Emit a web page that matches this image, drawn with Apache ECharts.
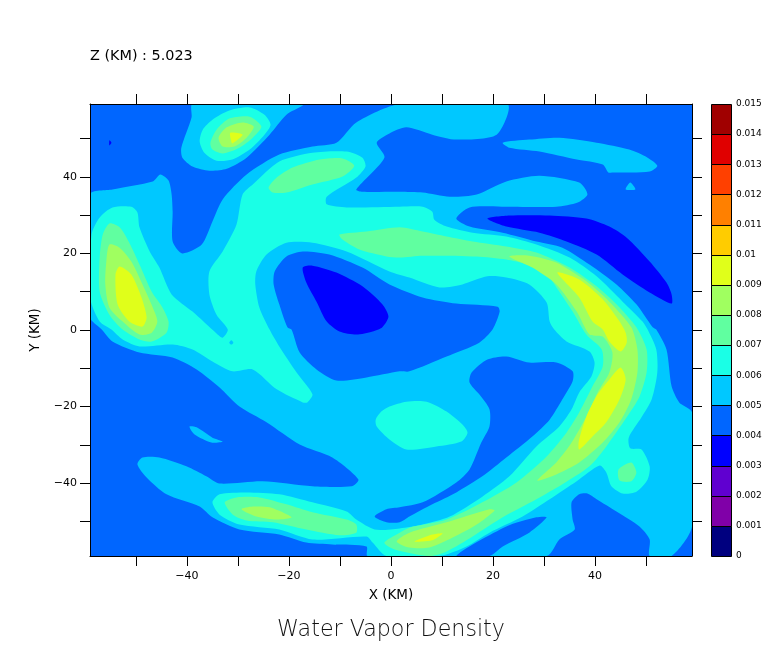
<!DOCTYPE html>
<html><head><meta charset="utf-8">
<style>html,body{margin:0;padding:0;background:#fff}#c{width:768px;height:662px}</style>
<script src="https://cdn.jsdelivr.net/npm/echarts@6/dist/echarts.min.js"></script>
</head><body><div id="c"></div>
<script>
// Contour outlines: [X km, Y km]
const base4 = [[-59,59],[59,59],[59,-59],[-59,-59]];
const band5Main = [[-59,35.4],[-54.6,36.7],[-46.7,38.8],[-45.2,40.6],[-43.6,39],[-43,35.4],[-42.8,30.9],[-42.8,23.1],[-40.9,20],[-37.1,22.3],[-35,28.3],[-33,34.1],[-28.3,40.6],[-21.9,45.8],[-15.4,47.9],[-10.7,48.9],[-6.8,54.2],[1.7,59],[22.8,59],[20.7,51],[12.8,49.7],[8.1,51],[3,52.9],[-0.3,51.3],[-2.8,48.9],[-1.3,45],[-6.8,36.7],[-5.6,36.1],[1.7,36.1],[6.2,35.9],[11.5,34.8],[16.8,35.4],[22.6,38.8],[29.1,40.3],[36.9,38.5],[38.5,35.4],[36.6,33.3],[32.4,32.2],[21.9,32.2],[15.4,32],[12.8,29.1],[15.4,27],[21.9,25.4],[28.5,23.1],[33.6,21.5],[38.9,17.1],[44.2,11.9],[48.1,6.7],[51.3,0.7],[52,0.1],[54,-5.1],[55,-14.7],[56.5,-18.9],[59,-21.5],[59,-51.3],[55,-59],[50.7,-59],[50.7,-54.7],[48.7,-51.3],[44.2,-47.4],[40.3,-44.2],[38.5,-42.7],[36.9,-42.9],[35.4,-45],[35.6,-49.5],[36,-52.1],[33,-54.7],[30.5,-59],[-4.6,-59],[-4.8,-56.5],[-11.5,-56],[-16.6,-55.5],[-21.9,-53.4],[-29.7,-52.1],[-35,-48.9],[-37.5,-46.1],[-44,-42.9],[-47.9,-38.5],[-49.7,-35.1],[-48.7,-33.3],[-45.4,-33.3],[-40.1,-35.6],[-36.2,-38.2],[-33.6,-40.1],[-25.2,-39.5],[-15.4,-40.8],[-7.7,-40.8],[-6.4,-39],[-11.5,-33.3],[-17.9,-29.9],[-24.4,-24.1],[-29.7,-20],[-33.6,-15],[-38.1,-10.3],[-42.8,-7.2],[-49.3,-5.9],[-54.6,-3],[-56.7,0.1],[-59,3.3]];
const band5TopLobe = [[-38.9,59],[-39.1,55.5],[-41.1,47.6],[-40.9,45],[-38.9,42.7],[-35.6,41.6],[-32.2,42.1],[-28.3,45],[-23.8,51],[-20.5,56.2],[-17.3,58.6],[-17.3,59]];
const band5LowerIsle = [[-39.5,-25.2],[-38.1,-25.4],[-35,-28.1],[-33,-29.1],[-35.2,-29.4],[-38.5,-27.3]];
const band5UpperIsle = [[21.9,48.9],[27.1,49.7],[33,50.2],[40.3,48.9],[46.7,47.1],[50.3,45],[52.2,42.9],[50.7,41.4],[43.4,41.1],[42.6,41.1],[41.5,43.2],[36.4,44.5],[29.1,46.6],[23.2,47.6]];
const band5Speck = [[46.9,38.5],[47.9,36.7],[46,36.7]];
const hole4Centre = [[-0.3,11.9],[-5.6,16.3],[-12.1,19.7],[-17.3,20.5],[-20.5,19.2],[-22.8,15.3],[-23,11.9],[-21.9,6.7],[-20.3,0.7],[-19.5,0.1],[-17.9,-5.9],[-14.6,-10.3],[-10.7,-13.2],[-4.8,-12.4],[1.7,-10.8],[3.6,-10.8],[10.9,-6.9],[17.3,-3.3],[19.9,0.1],[21.3,4.8],[20.9,6.1],[12.8,6.9],[6.2,8.5]];
const hole4Lower = [[18.9,-7.7],[22.6,-6.9],[27.1,-8.5],[32.4,-8.5],[35.6,-10.8],[35.6,-13.4],[33.6,-18.1],[31.1,-23.4],[27.7,-27.8],[22.6,-33.3],[17.9,-38.2],[12.8,-42.4],[8.1,-45.5],[3.6,-48.7],[1.7,-50.2],[-0.9,-50.2],[-3.2,-48.7],[-0.9,-46.8],[1.7,-46.3],[6.2,-45],[12.8,-39.8],[15.4,-36.4],[17.7,-29.4],[19.3,-25.2],[19.3,-20.7],[17.3,-16.8],[15.4,-13.7],[15.8,-11.1]];
const hole4Sliver = [[12.8,-59],[22.6,-51.3],[28.5,-48.9],[30.5,-48.9],[27.1,-52.9],[21.9,-56.5],[19.3,-59]];
const band6Main = [[-58.7,24.9],[-57.1,29.4],[-54.6,32],[-50.9,32.2],[-49.7,30.7],[-49.3,26.8],[-47.3,20.5],[-45.4,16.3],[-43,9.3],[-38.9,4.8],[-34.2,-0.9],[-33,-2],[-32,0.1],[-34.2,4],[-35.6,9.3],[-35.6,15.3],[-33,20.5],[-30.3,27.5],[-29.1,35.4],[-27.1,38],[-21.9,44],[-15.4,46.3],[-8.7,46.6],[-5.6,45],[-5,42.7],[-6.8,39.8],[-12.6,34.8],[-12.6,32.8],[-8.7,32],[1.7,32.2],[6.2,32.2],[8.1,30.9],[8.5,28.8],[10.9,27],[16,25.4],[22.6,24.4],[28.5,22.3],[35,18.9],[40.3,14],[45.4,7.4],[49.3,2.2],[50.3,0.1],[52,-5.1],[52.2,-11.1],[51.1,-18.1],[49.1,-22.8],[46.6,-28.1],[46.9,-30.9],[49.1,-31.2],[50.7,-35.6],[50.3,-39],[48.1,-42.2],[45.4,-42.7],[43.2,-40.8],[42.2,-37.2],[40.9,-35.4],[36.4,-39.5],[31.1,-44.2],[25.8,-48.7],[19.3,-52.9],[14.8,-56.5],[9.5,-59],[-0.9,-59],[-3.6,-55.5],[-4.8,-53.9],[-15.4,-54.7],[-21.9,-52.1],[-29.7,-50.8],[-33.6,-48.2],[-35,-45],[-33.6,-42.9],[-28.3,-42.4],[-21.9,-42.9],[-15.4,-45],[-8.7,-47.4],[-6.8,-49.5],[-3.2,-52.1],[1.7,-51.8],[6.2,-50.8],[11.5,-48.7],[17.9,-43.5],[23.2,-38.2],[28.5,-30.4],[33,-25.2],[35.4,-20.7],[36.9,-16.3],[39.3,-12.1],[39.9,-8.5],[38.9,-5.6],[34.4,-3],[32,0.1],[31.1,2.2],[30.5,7.2],[27.1,11.9],[22.6,13.7],[18.9,14],[14,11.9],[9.5,11.1],[3.6,13.7],[-0.3,15.3],[-8.7,20.5],[-15.4,22.8],[-20.5,22.8],[-24.4,19.7],[-26.4,15.3],[-26.6,11.9],[-25.8,5.9],[-23.8,0.1],[-21.9,-4.3],[-18.5,-11.1],[-15.4,-16.8],[-16.4,-18.9],[-17.3,-18.9],[-22.4,-15.5],[-27.1,-10.3],[-31.1,-10.8],[-35,-8.2],[-38.9,-5.1],[-42.8,-3.8],[-49.3,-4.3],[-52.6,-2.5],[-54.8,0.1],[-57.1,2.2],[-58.9,8]];
const band6Top = [[-37.5,49.2],[-36.9,52.3],[-35,54.9],[-31.7,57.3],[-27.7,58.1],[-24.8,56.2],[-23.6,53.6],[-24.8,51],[-27.7,47.1],[-31.1,44.5],[-34.2,44.2],[-36.6,46.3]];
const band6Lower = [[-3,-23.4],[-1.9,-21.3],[-0.3,-20],[3,-18.7],[7,-18.7],[10.9,-21.3],[14,-24.7],[15,-26.8],[13.8,-29.1],[8.9,-30.4],[3,-31.2],[-0.3,-28.6],[-2.8,-25.2]];
const hole5Speck = [[-31.7,-3.3],[-31.3,-2.7],[-30.9,-3.3],[-31.3,-3.8]];
const band7Left = [[-57.1,18.9],[-56.5,24.9],[-55.2,27.8],[-53.2,26.8],[-51.3,22.8],[-49.3,17.1],[-46.9,10],[-44.8,5.9],[-43.6,2.2],[-44,-0.7],[-46.9,-3],[-49.3,-2.5],[-52.6,0.1],[-55.2,4],[-57.1,10]];
const band7Top = [[-35.4,48.9],[-34.2,52.3],[-31.7,55.2],[-27.7,55.7],[-25.4,53.1],[-27.1,50.2],[-29.7,47.6],[-33,46.1],[-35,47.1]];
const band7Upper = [[-24,37.2],[-22.4,39.8],[-19.3,42.4],[-14,44.5],[-9.5,44.8],[-7.2,42.9],[-9.5,40.1],[-15.4,38],[-20.5,35.9],[-23.2,35.9]];
const band7Arc = [[-10.1,24.9],[-4.8,25.7],[1.7,26.8],[6.2,25.7],[10.9,24.4],[16,23.1],[22.6,21.8],[28.5,20.2],[35,16.3],[40.3,11.4],[44.2,6.7],[48.1,0.7],[50.1,-5.1],[50.1,-11.1],[48.7,-17.4],[46.2,-22.8],[42.2,-30.4],[38.9,-35.6],[33.6,-40.3],[28.5,-44.2],[21.9,-48.9],[16,-53.9],[10.9,-57.8],[7.5,-59],[0.7,-57.3],[-1.3,-55.5],[1.7,-52.9],[3.6,-51.6],[10.9,-49.5],[17.9,-45],[24.6,-39.8],[30.5,-33],[34.4,-26.8],[36.9,-21.5],[39.5,-14.7],[41.5,-9.5],[41.3,-5.1],[38.3,-1.2],[35.6,4.8],[33,10],[30.5,14.5],[26.6,17.1],[22.6,18.4],[16.8,19.2],[6.2,19.4],[1.7,18.9],[-0.9,19.2],[-6.2,21],[-9.5,23.6]];
const band7Strip = [[-32.6,-45],[-30.3,-43.7],[-25.8,-43.7],[-20.5,-45.5],[-15.4,-47.6],[-8.7,-49.5],[-6.8,-50.8],[-6.8,-52.9],[-10.1,-53.6],[-16.6,-52.1],[-23.2,-50.2],[-28.3,-49.7],[-31,-48.2]];
const band7Knob = [[44.6,-36.4],[47.1,-34.6],[48.1,-37.2],[47.1,-39.5],[44.8,-39.3]];
const band8Left = [[-55.8,17.9],[-55.2,22.3],[-53.2,21.5],[-50.9,17.9],[-48.7,11.9],[-46.7,5.9],[-45.8,2.2],[-46.9,-0.7],[-49.3,-1.2],[-52.6,2.2],[-55.2,5.9],[-56,11.9]];
const band8Top = [[-33.8,50.2],[-32.2,52.9],[-29.1,54.2],[-26.9,53.1],[-28.3,50.2],[-30.7,47.9],[-33,47.9]];
const band8Arc = [[23.2,19.2],[27.1,19.4],[32.4,17.6],[38.3,12.7],[42.8,7.4],[47.1,0.7],[48.3,-5.1],[48.3,-11.1],[47.1,-18.1],[44.8,-24.1],[41.5,-29.4],[36.9,-34.6],[32.4,-37.7],[28.7,-39.3],[32.4,-34.6],[35.4,-29.4],[38.3,-22.6],[40.5,-16.3],[42.8,-11.1],[43.4,-5.9],[41.5,-1.7],[38.9,-1.2],[36.4,4.8],[32.4,11.9],[27.7,16.3]];
const band8Strip = [[-29.3,-46.8],[-27.1,-46.1],[-23.8,-46.3],[-19.5,-48.9],[-22.4,-49.5],[-26.4,-48.7]];
const band8Bottom = [[1.1,-55.2],[3.6,-52.9],[10.9,-50.2],[19.3,-46.8],[20.3,-47.1],[16.8,-50.8],[12.1,-54.2],[7.5,-56.8],[3.6,-56.8]];
const band9Left = [[-54,14.5],[-53.2,16.6],[-50.9,14.5],[-48.9,8.5],[-47.9,3.3],[-48.7,0.9],[-51.3,2.2],[-53.6,6.7]];
const band9Top = [[-31.5,51.5],[-29.1,51],[-31.1,48.7],[-31.3,49.2]];
const band9ArcUp = [[32.6,15],[36.9,13.2],[41.5,8],[44.8,2.2],[46,-0.7],[46.2,-3.3],[45,-5.6],[42.8,-3],[41.5,0.1],[39.5,2.2],[36.9,8.5]];
const band9ArcLow = [[45,-9.8],[46,-12.9],[44.8,-18.1],[42.2,-24.1],[39.5,-27.8],[36.9,-31.2],[36.8,-29.1],[38.3,-22.6],[40.5,-16.8],[42.8,-12.9]];
const band9Bottom = [[4.6,-55.2],[8.1,-53.4],[10.1,-53.1],[8.1,-54.9],[6.2,-55.2]];
const band3Centre = [[-17.3,16.3],[-15.4,16.8],[-10.7,15],[-5.6,11.4],[-1.7,6.7],[-0.5,3.5],[-1.7,0.7],[-3.6,-0.4],[-6.8,-1.2],[-10.1,-0.4],[-12.6,2.2],[-14.6,7.4],[-16.6,12.4]];
const band3Right = [[18.9,29.1],[23.2,29.9],[31.1,29.9],[38.3,29.1],[42.8,27],[46.2,24.1],[50.7,17.9],[54,12.4],[55,9.3],[55,6.9],[50.7,9.8],[45.4,14.5],[40.3,19.7],[34.4,23.1],[29.1,25.4],[22.6,27]];
const band3Speck = [[-55.2,49.5],[-54.8,48.9],[-55.2,48.2]];

const levelColors = ['#00007f','#8000a8','#6000d0','#0000ff','#0066ff','#00c8ff','#1affe6','#60ffa0','#a0ff60','#e0ff1a','#ffcc00','#ff8000','#ff4000','#e00000','#a00000'];
const colorTickLabels = ['0','0.001','0.002','0.003','0.004','0.005','0.006','0.007','0.008','0.009','0.01','0.011','0.012','0.013','0.014','0.015'];
const axisTicks = [-50,-40,-30,-20,-10,0,10,20,30,40,50];
const axisLabels = [-40,-20,0,20,40];
const heading = 'Z (KM) : 5.023';
const titleText = 'Water Vapor Density';

// paint order: [colour index, outline]
const layers = [
  [4,base4],[5,band5Main],[5,band5TopLobe],[5,band5LowerIsle],[5,band5UpperIsle],[5,band5Speck],
  [4,hole4Centre],[4,hole4Lower],[4,hole4Sliver],
  [6,band6Main],[6,band6Top],[6,band6Lower],[5,hole5Speck],
  [7,band7Left],[7,band7Top],[7,band7Upper],[7,band7Arc],[7,band7Strip],[7,band7Knob],
  [8,band8Left],[8,band8Top],[8,band8Arc],[8,band8Strip],[8,band8Bottom],
  [9,band9Left],[9,band9Top],[9,band9ArcUp],[9,band9ArcLow],[9,band9Bottom],
  [3,band3Centre],[3,band3Right],[3,band3Speck]
];
const F = '"DejaVu Sans"';
const lineBlack = {show:true,onZero:false,lineStyle:{color:'#000',width:1}};
const tick = {show:true,inside:false,length:10,lineStyle:{color:'#000',width:1},customValues:axisTicks};
const fmt = v => String(v).replace('-','\u2212');
const chart = echarts.init(document.getElementById('c'),null,{renderer:'canvas'});
chart.setOption({
  animation:false,
  backgroundColor:'#fff',
  title:[
    {text:heading,left:85,top:44,textStyle:{fontFamily:F,fontSize:14.4,fontWeight:'normal',color:'#000'}},
    {text:titleText,left:386,top:614,textAlign:'center',textStyle:{fontFamily:'"DejaVu Sans Light","DejaVu Sans"',fontSize:22.2,fontWeight:200,color:'#111'}}
  ],
  grid:[
    {left:90,top:104,width:602,height:452,show:false},
    {left:711,top:104,width:20,height:452,show:false}
  ],
  xAxis:[
    {gridIndex:0,type:'value',min:-59,max:59,position:'bottom',z:5,splitLine:{show:false},axisLine:lineBlack,axisTick:tick,
     axisLabel:{customValues:axisLabels,formatter:fmt,margin:15,fontFamily:F,fontSize:11,color:'#000'},
     name:'X (KM)',nameLocation:'middle',nameGap:32,nameTextStyle:{fontFamily:F,fontSize:13.5,color:'#000'}},
    {gridIndex:0,type:'value',min:-59,max:59,position:'top',z:5,splitLine:{show:false},axisLine:lineBlack,axisTick:tick,axisLabel:{show:false}},
    {gridIndex:1,type:'value',min:0,max:1,show:false}
  ],
  yAxis:[
    {gridIndex:0,type:'value',min:-59,max:59,position:'left',z:5,splitLine:{show:false},axisLine:lineBlack,axisTick:tick,
     axisLabel:{customValues:axisLabels,formatter:fmt,margin:13,padding:[2,0,0,0],fontFamily:F,fontSize:11,color:'#000'},
     name:'Y (KM)',nameLocation:'middle',nameGap:45,nameRotate:90,nameTextStyle:{fontFamily:F,fontSize:13.5,color:'#000'}},
    {gridIndex:0,type:'value',min:-59,max:59,position:'right',z:5,splitLine:{show:false},axisLine:lineBlack,axisTick:tick,axisLabel:{show:false}},
    {gridIndex:1,type:'value',min:0,max:0.015,interval:0.001,position:'right',splitLine:{show:false},axisLine:{show:false},axisTick:{show:false},
     axisLabel:{formatter:v=>colorTickLabels[Math.round(v*1000)],margin:5,padding:[4,0,0,0],fontFamily:F,fontSize:9,color:'#000',showMinLabel:true,showMaxLabel:true,hideOverlap:false}}
  ],
  series:[
    {type:'custom',coordinateSystem:'cartesian2d',xAxisIndex:0,yAxisIndex:0,clip:true,silent:true,z:1,
     data:layers.map((l,i)=>[i]),
     renderItem:(p,api)=>{
       const l=layers[api.value(0)];
       return {type:'polygon',shape:{points:l[1].map(c=>api.coord(c)),smooth:l[1]===base4?0:0.25},
         style:{fill:levelColors[l[0]],stroke:null}};
     }},
    {type:'custom',coordinateSystem:'cartesian2d',xAxisIndex:2,yAxisIndex:2,silent:true,z:2,
     data:levelColors.map((c,i)=>[i]),
     renderItem:(p,api)=>{
       const i=api.value(0);
       const a=api.coord([0,(i+1)/1000]), b=api.coord([1,i/1000]);
       return {type:'rect',shape:{x:Math.round(a[0])+0.5,y:Math.round(a[1])+0.5,width:Math.round(b[0]-a[0]),height:Math.round(b[1])-Math.round(a[1])},
         style:{fill:levelColors[i],stroke:'#000',lineWidth:1}};
     }}
  ]
});
</script></body></html>
